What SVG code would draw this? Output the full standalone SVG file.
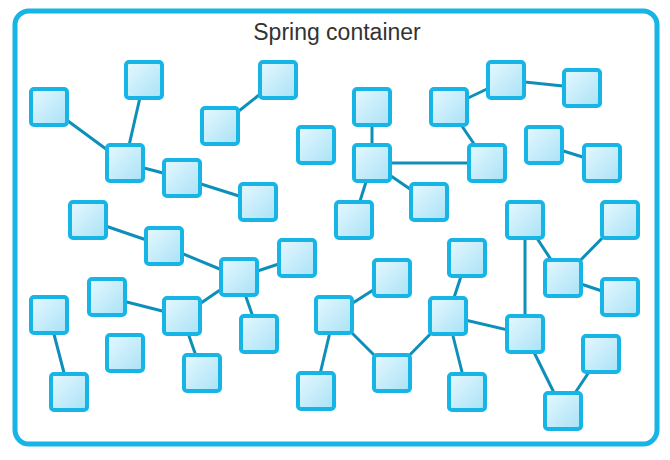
<svg xmlns="http://www.w3.org/2000/svg" width="670" height="460" viewBox="0 0 670 460">
<defs>
<linearGradient id="g" x1="0" y1="0" x2="1" y2="1">
<stop offset="0" stop-color="#e6f8fe"/>
<stop offset="1" stop-color="#a9e2f7"/>
</linearGradient>
<style>
.n{fill:url(#g);stroke:#17b4e6;stroke-width:4;}
.e line{stroke:#0d8fba;stroke-width:3;}
.t{font-family:"Liberation Sans",Arial,sans-serif;font-size:23px;fill:#333;}
</style>
</defs>
<rect width="670" height="460" fill="#fff"/>
<g id="container">
<rect x="15" y="11" width="642" height="433" rx="14" fill="#fff" stroke="#17b4e6" stroke-width="5"/>
<text class="t" x="337" y="40" text-anchor="middle">Spring container</text>
</g>
<g id="connectors" class="e">
<line x1="49" y1="107" x2="125" y2="163"/>
<line x1="144" y1="80" x2="125" y2="163"/>
<line x1="125" y1="163" x2="182" y2="178"/>
<line x1="182" y1="178" x2="258" y2="202"/>
<line x1="220" y1="126" x2="278" y2="80"/>
<line x1="372" y1="107" x2="372" y2="163"/>
<line x1="372" y1="163" x2="487" y2="163"/>
<line x1="449" y1="107" x2="487" y2="163"/>
<line x1="449" y1="107" x2="506" y2="80"/>
<line x1="506" y1="80" x2="582" y2="88"/>
<line x1="544" y1="145" x2="602" y2="163"/>
<line x1="372" y1="163" x2="429" y2="202"/>
<line x1="372" y1="163" x2="354" y2="220"/>
<line x1="88" y1="220" x2="164" y2="246"/>
<line x1="164" y1="246" x2="239" y2="277"/>
<line x1="239" y1="277" x2="297" y2="258"/>
<line x1="239" y1="277" x2="182" y2="316"/>
<line x1="239" y1="277" x2="259" y2="334"/>
<line x1="107" y1="297" x2="182" y2="316"/>
<line x1="182" y1="316" x2="202" y2="373"/>
<line x1="49" y1="315" x2="69" y2="392"/>
<line x1="334" y1="315" x2="316" y2="391"/>
<line x1="334" y1="315" x2="392" y2="278"/>
<line x1="334" y1="315" x2="392" y2="373"/>
<line x1="392" y1="373" x2="448" y2="316"/>
<line x1="448" y1="316" x2="467" y2="258"/>
<line x1="448" y1="316" x2="467" y2="392"/>
<line x1="448" y1="316" x2="525" y2="334"/>
<line x1="525" y1="220" x2="525" y2="334"/>
<line x1="525" y1="220" x2="563" y2="278"/>
<line x1="620" y1="220" x2="563" y2="278"/>
<line x1="563" y1="278" x2="620" y2="297"/>
<line x1="525" y1="334" x2="563" y2="411"/>
<line x1="563" y1="411" x2="601" y2="354"/>
</g>
<g id="n1"><rect class="n" x="31" y="89" width="36" height="36" rx="3"/></g>
<g id="n2"><rect class="n" x="126" y="62" width="36" height="36" rx="3"/></g>
<g id="n3"><rect class="n" x="107" y="145" width="36" height="36" rx="3"/></g>
<g id="n4"><rect class="n" x="164" y="160" width="36" height="36" rx="3"/></g>
<g id="n5"><rect class="n" x="240" y="184" width="36" height="36" rx="3"/></g>
<g id="n6"><rect class="n" x="202" y="108" width="36" height="36" rx="3"/></g>
<g id="n7"><rect class="n" x="260" y="62" width="36" height="36" rx="3"/></g>
<g id="n8"><rect class="n" x="298" y="127" width="36" height="36" rx="3"/></g>
<g id="n9"><rect class="n" x="354" y="89" width="36" height="36" rx="3"/></g>
<g id="n10"><rect class="n" x="354" y="145" width="36" height="36" rx="3"/></g>
<g id="n11"><rect class="n" x="411" y="184" width="36" height="36" rx="3"/></g>
<g id="n12"><rect class="n" x="431" y="89" width="36" height="36" rx="3"/></g>
<g id="n13"><rect class="n" x="469" y="145" width="36" height="36" rx="3"/></g>
<g id="n14"><rect class="n" x="488" y="62" width="36" height="36" rx="3"/></g>
<g id="n15"><rect class="n" x="564" y="70" width="36" height="36" rx="3"/></g>
<g id="n16"><rect class="n" x="526" y="127" width="36" height="36" rx="3"/></g>
<g id="n17"><rect class="n" x="584" y="145" width="36" height="36" rx="3"/></g>
<g id="n18"><rect class="n" x="336" y="202" width="36" height="36" rx="3"/></g>
<g id="n19"><rect class="n" x="507" y="202" width="36" height="36" rx="3"/></g>
<g id="n20"><rect class="n" x="602" y="202" width="36" height="36" rx="3"/></g>
<g id="n21"><rect class="n" x="70" y="202" width="36" height="36" rx="3"/></g>
<g id="n22"><rect class="n" x="146" y="228" width="36" height="36" rx="3"/></g>
<g id="n23"><rect class="n" x="221" y="259" width="36" height="36" rx="3"/></g>
<g id="n24"><rect class="n" x="279" y="240" width="36" height="36" rx="3"/></g>
<g id="n25"><rect class="n" x="89" y="279" width="36" height="36" rx="3"/></g>
<g id="n26"><rect class="n" x="164" y="298" width="36" height="36" rx="3"/></g>
<g id="n27"><rect class="n" x="31" y="297" width="36" height="36" rx="3"/></g>
<g id="n28"><rect class="n" x="107" y="335" width="36" height="36" rx="3"/></g>
<g id="n29"><rect class="n" x="241" y="316" width="36" height="36" rx="3"/></g>
<g id="n30"><rect class="n" x="184" y="355" width="36" height="36" rx="3"/></g>
<g id="n31"><rect class="n" x="51" y="374" width="36" height="36" rx="3"/></g>
<g id="n32"><rect class="n" x="316" y="297" width="36" height="36" rx="3"/></g>
<g id="n33"><rect class="n" x="298" y="373" width="36" height="36" rx="3"/></g>
<g id="n34"><rect class="n" x="374" y="260" width="36" height="36" rx="3"/></g>
<g id="n35"><rect class="n" x="449" y="240" width="36" height="36" rx="3"/></g>
<g id="n36"><rect class="n" x="430" y="298" width="36" height="36" rx="3"/></g>
<g id="n37"><rect class="n" x="374" y="355" width="36" height="36" rx="3"/></g>
<g id="n38"><rect class="n" x="449" y="374" width="36" height="36" rx="3"/></g>
<g id="n39"><rect class="n" x="507" y="316" width="36" height="36" rx="3"/></g>
<g id="n40"><rect class="n" x="545" y="260" width="36" height="36" rx="3"/></g>
<g id="n41"><rect class="n" x="602" y="279" width="36" height="36" rx="3"/></g>
<g id="n42"><rect class="n" x="583" y="336" width="36" height="36" rx="3"/></g>
<g id="n43"><rect class="n" x="545" y="393" width="36" height="36" rx="3"/></g>
</svg>
